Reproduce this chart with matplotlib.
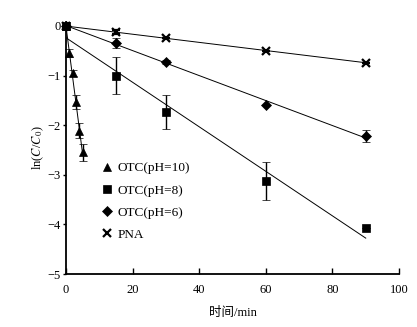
import numpy as np
import matplotlib
matplotlib.use("Agg")
import matplotlib.pyplot as plt
from matplotlib.lines import Line2D

plt.rcParams['font.family'] = ['Liberation Serif', 'Noto Sans CJK SC']
plt.rcParams['mathtext.fontset'] = 'stix'

# OTC pH=10
t10 = [0, 1, 2, 3, 4, 5]
y10 = [0, -0.54, -0.95, -1.53, -2.11, -2.55]
e10 = [0, 0.08, 0.06, 0.14, 0.15, 0.17]
# OTC pH=8
t8 = [0, 15, 30, 60, 90]
y8 = [0, -1.0, -1.73, -3.13, -4.08]
e8 = [0, 0.37, 0.34, 0.38, 0.0]
# OTC pH=6
t6 = [0, 15, 30, 60, 90]
y6 = [0, -0.35, -0.72, -1.6, -2.21]
e6 = [0, 0.1, 0.04, 0.0, 0.12]
# PNA
tp = [0, 15, 30, 60, 90]
yp = [0, -0.13, -0.25, -0.5, -0.74]
ep = [0, 0.04, 0.0, 0.0, 0.0]

series = [
    (t10, y10, e10, '^', 6, 'OTC(pH=10)'),
    (t8, y8, e8, 's', 6, 'OTC(pH=8)'),
    (t6, y6, e6, 'D', 5, 'OTC(pH=6)'),
    (tp, yp, ep, 'x', 6, 'PNA'),
]

fig = plt.figure(figsize=(4.17, 3.27), dpi=100)
ax = fig.add_axes([0.158, 0.162, 0.799, 0.771])

handles = []
for t, y, e, m, ms, lab in series:
    t = np.array(t, float)
    y = np.array(y, float)
    k, b = np.polyfit(t, y, 1)
    tt = np.array([0, t.max()])
    ax.plot(tt, k * tt + b, color='black', lw=0.7, zorder=2)
    ax.errorbar(t, y, yerr=e, fmt=m, ms=ms, color='black', mew=1.6 if m == 'x' else 0.5,
                ecolor='black', elinewidth=1.0, capsize=3, capthick=1.0, clip_on=False, zorder=3)
    handles.append(Line2D([], [], ls='none', marker=m, ms=ms, color='black',
                          mew=1.6 if m == 'x' else 0.5, label=lab))

ax.set_xlim(0, 100)
ax.set_ylim(-5, 0.08)
ax.set_xticks([0, 20, 40, 60, 80, 100])
ax.set_yticks([-5, -4, -3, -2, -1, 0])
ax.set_yticklabels(['\u22125', '\u22124', '\u22123', '\u22122', '\u22121', '0'])
for s in ['top', 'right']:
    ax.spines[s].set_visible(False)
for s in ['left', 'bottom']:
    ax.spines[s].set_linewidth(1.3)
ax.tick_params(axis='x', direction='in', length=4, width=1, labelsize=9, pad=7)
ax.tick_params(axis='y', direction='out', length=2, width=1, labelsize=9, pad=2)

ax.set_xlabel('时间/min', fontsize=9, labelpad=8)
ax.set_ylabel(r'ln($C$/$C_0$)', fontsize=9, labelpad=1)

ax.legend(handles=handles, loc='upper left', bbox_to_anchor=(0.08, 0.48), frameon=False,
          fontsize=9.5, handlelength=0.8, handletextpad=0.4, labelspacing=0.75, borderpad=0.2)

fig.savefig('out.png', dpi=100)
